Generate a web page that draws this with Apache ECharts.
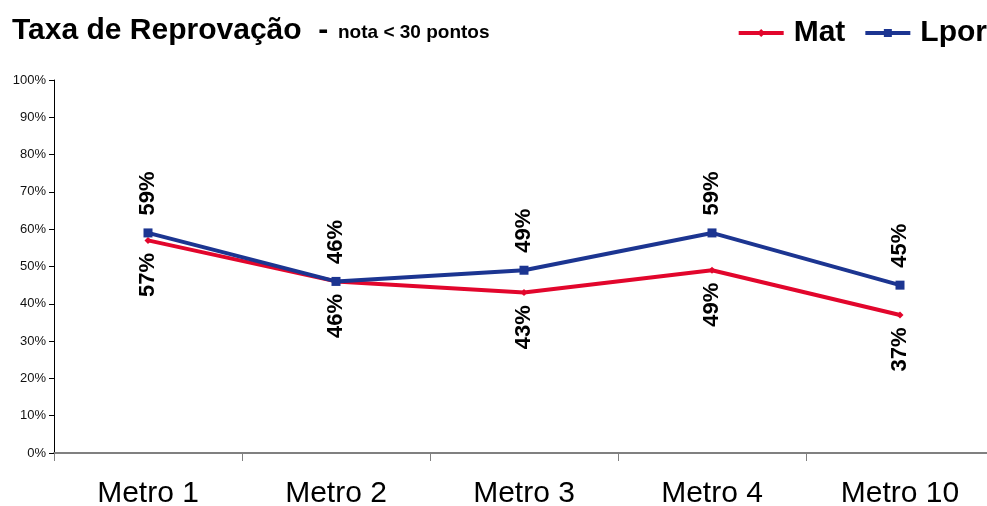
<!DOCTYPE html>
<html>
<head>
<meta charset="utf-8">
<script src="https://cdn.jsdelivr.net/npm/echarts@6/dist/echarts.min.js"></script>
<style>
  html, body { margin: 0; padding: 0; background: #fff; }
  #chart { width: 987px; height: 506px; }
</style>
</head>
<body>
<div id="chart"></div>
<script>
// Categories and failure rates (%) per subject
const categories = ['Metro 1', 'Metro 2', 'Metro 3', 'Metro 4', 'Metro 10'];
const matValues = [57, 46, 43, 49, 37];
const lporValues = [59, 46, 49, 59, 45];

const RED = '#E2062C';
const BLUE = '#1C3591';
const FONT = 'Liberation Sans, Arial, sans-serif';

const chart = echarts.init(document.getElementById('chart'), null, { renderer: 'canvas' });

chart.setOption({
  animation: false,
  backgroundColor: '#ffffff',
  title: [
    {
      text: 'Taxa de Reprovação  -',
      left: 12,
      top: 16,
      padding: 0,
      textStyle: { fontFamily: FONT, fontWeight: 'bold', fontSize: 30, lineHeight: 30, color: '#000' }
    },
    {
      text: 'nota < 30 pontos',
      left: 338,
      top: 23,
      padding: 0,
      textStyle: { fontFamily: FONT, fontWeight: 'bold', fontSize: 19, lineHeight: 19, color: '#000' }
    }
  ],
  legend: {
    right: 0,
    top: 13,
    padding: [5, 0, 5, 5],
    itemWidth: 45,
    itemHeight: 10,
    itemGap: 18,
    lineStyle: { width: 4 },
    textStyle: { fontFamily: FONT, fontWeight: 'bold', fontSize: 30, color: '#000', padding: [0, 0, 0, 5] },
    data: ['Mat', 'Lpor']
  },
  grid: {
    left: 54,
    top: 80,
    width: 940,
    height: 373,
    containLabel: false,
    outerBoundsMode: 'none'
  },
  xAxis: {
    type: 'category',
    data: categories,
    boundaryGap: true,
    axisLine: { lineStyle: { color: '#808080', width: 2 } },
    axisTick: { show: true, length: 8, lineStyle: { color: '#808080', width: 1 } },
    axisLabel: { fontFamily: FONT, fontSize: 30, color: '#000', margin: 26 }
  },
  yAxis: {
    type: 'value',
    min: 0,
    max: 100,
    interval: 10,
    axisLine: { show: true, lineStyle: { color: '#000', width: 1 } },
    axisTick: { show: true, length: 5, lineStyle: { color: '#000' } },
    splitLine: { show: false },
    axisLabel: { fontFamily: FONT, fontSize: 13, color: '#111', margin: 8, formatter: '{value}%' }
  },
  series: [
    {
      name: 'Mat',
      type: 'line',
      data: matValues,
      color: RED,
      lineStyle: { width: 4, color: RED },
      symbol: 'diamond',
      symbolSize: 7,
      itemStyle: { color: RED },
      z: 2,
      label: {
        show: true,
        position: 'bottom',
        distance: 9,
        rotate: 90,
        align: 'right',
        verticalAlign: 'middle',
        fontFamily: FONT,
        fontWeight: 'bold',
        fontSize: 22,
        color: '#000',
        formatter: p => p.value + '%'
      }
    },
    {
      name: 'Lpor',
      type: 'line',
      data: lporValues,
      color: BLUE,
      lineStyle: { width: 4, color: BLUE },
      symbol: 'rect',
      symbolSize: 9,
      itemStyle: { color: BLUE },
      z: 3,
      label: {
        show: true,
        position: 'top',
        distance: 13,
        rotate: 90,
        align: 'left',
        verticalAlign: 'middle',
        fontFamily: FONT,
        fontWeight: 'bold',
        fontSize: 22,
        color: '#000',
        formatter: p => p.value + '%'
      }
    }
  ]
});
</script>
</body>
</html>
